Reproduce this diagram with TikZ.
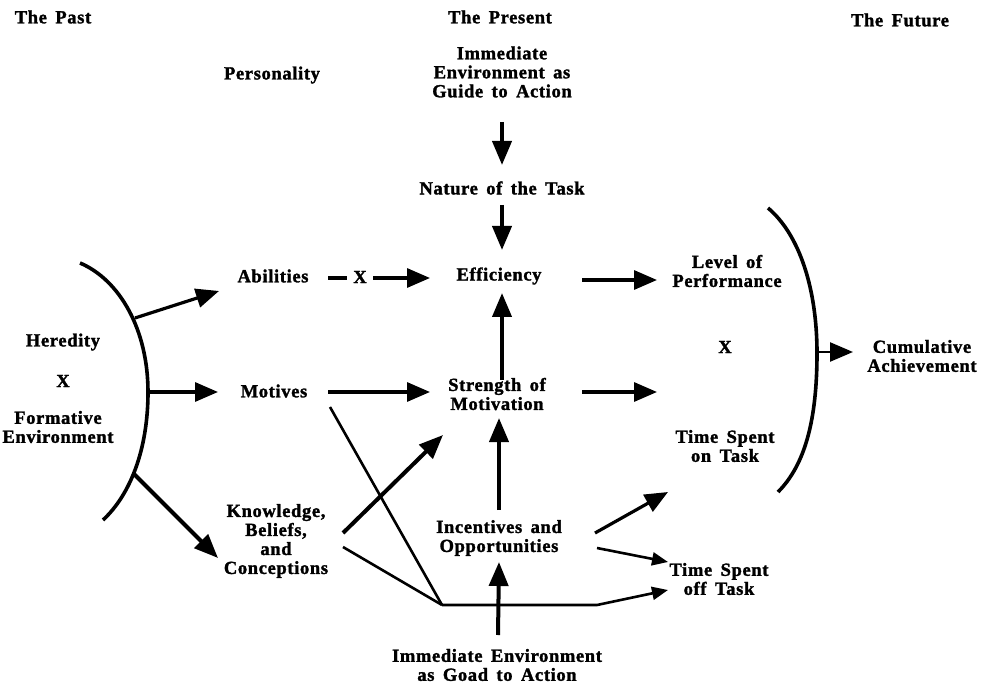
\documentclass[tikz,border=0pt]{standalone}
\usepackage{fontspec}
\newfontfamily\lblfont{Liberation Serif Bold}[LetterSpace=3.5,WordSpace=1.6,FakeBold=1.6]
\usetikzlibrary{arrows.meta}
\begin{document}
\begin{tikzpicture}[x=1pt,y=-1pt,
  lbl/.style={font=\lblfont\fontsize{18.5}{19}\selectfont, align=center, inner sep=0pt},
  bigarrow/.style={line width=4pt, -{Triangle[length=24pt,width=19pt]}},
  medarrow/.style={line width=3.2pt, -{Triangle[length=23pt,width=19pt]}},
  thinarrow/.style={line width=2.6pt, -{Triangle[length=16pt,width=13pt]}},
  plainline/.style={line width=2.6pt},
  bracket/.style={line width=3.6pt}]
\useasboundingbox (0,0) rectangle (990,684);
% ---- texts
\node[lbl] (past) at (53,17) {The Past};
\node[lbl] (present) at (500,17) {The Present};
\node[lbl] (future) at (900,20) {The Future};
\node[lbl] (personality) at (272,75) {Personality};
\node[lbl] (guide) at (502,72) {Immediate\\Environment as\\Guide to Action};
\node[lbl] (nature) at (502,188) {Nature of the Task};
\node[lbl] (abilities) at (273,276) {Abilities};
\node[lbl] (ax) at (360,277) {X};
\node[lbl] (efficiency) at (499,276) {Efficiency};
\node[lbl] (level) at (727,271) {Level of\\Performance};
\node[lbl] (heredity) at (63,342) {Heredity};
\node[lbl] (hx) at (63,381) {X};
\node[lbl] (formative) at (58,427) {Formative\\Environment};
\node[lbl] (motives) at (274,391) {Motives};
\node[lbl] (strength) at (497,394) {Strength of\\Motivation};
\node[lbl] (fx) at (725,347) {X};
\node[lbl] (timeon) at (725,446) {Time Spent\\on Task};
\node[lbl] (cumulative) at (922,356) {Cumulative\\Achievement};
\node[lbl] (knowledge) at (276,541) {Knowledge,\\Beliefs,\\and\\Conceptions};
\node[lbl] (incentives) at (499,538) {Incentives and\\Opportunities};
\node[lbl] (timeoff) at (719,579) {Time Spent\\off Task};
\node[lbl] (goad) at (497,665) {Immediate Environment\\as Goad to Action};
% ---- connector end points
\coordinate (gS) at (502,122);  \coordinate (nN) at (502,165);
\coordinate (nS) at (502,205);  \coordinate (eN) at (502,250);
\coordinate (d1) at (328,278);  \coordinate (d2) at (347,278);
\coordinate (x1) at (373,278);  \coordinate (eW) at (430,278);
\coordinate (eE) at (582,280);  \coordinate (lW) at (657,280);
\coordinate (sN) at (502,380);  \coordinate (eS) at (502,293);
\coordinate (mE) at (328,392);  \coordinate (sW) at (430,392);
\coordinate (sE) at (582,392);  \coordinate (tW) at (657,392);
\coordinate (iN) at (499,510);  \coordinate (sS) at (499,418);
\coordinate (gN) at (498,635);  \coordinate (iS) at (499,562);
\coordinate (k1) at (343,533);  \coordinate (sSW) at (443,435);
\coordinate (k2) at (343,547);  \coordinate (m2) at (330,407);
\coordinate (hub) at (442,605); \coordinate (hubE) at (597,605);
\coordinate (toW) at (668,590);
\coordinate (i1) at (595,533);  \coordinate (tonW) at (668,492);
\coordinate (i2) at (597,548);  \coordinate (toW2) at (668,562);
\coordinate (bA) at (135,318);  \coordinate (aW) at (219,291);
\coordinate (bM) at (148,392);  \coordinate (mW) at (218,392);
\coordinate (bK) at (133,473);  \coordinate (kW) at (218,558);
\coordinate (rb) at (818,352);  \coordinate (cW) at (853,352);
\coordinate (lbT) at (80,263);  \coordinate (lbB) at (103,520);
\coordinate (rbT) at (768,208); \coordinate (rbB) at (778,492);
% ---- brackets
\draw[bracket] (lbT) .. controls (120,280) and (148,330) .. (bM)
  .. controls (148,450) and (130,495) .. (lbB);
\draw[bracket] (rbT) .. controls (800,235) and (817,290) .. (817,353)
  .. controls (817,420) and (805,465) .. (rbB);
% ---- connectors
\draw[bigarrow] (gS) -- (nN);
\draw[bigarrow] (nS) -- (eN);
\draw[line width=3.2pt] (d1) -- (d2);
\draw[medarrow] (x1) -- (eW);
\draw[medarrow] (eE) -- (lW);
\draw[bigarrow] (sN) -- (eS);
\draw[medarrow] (mE) -- (sW);
\draw[medarrow] (sE) -- (tW);
\draw[bigarrow] (iN) -- (sS);
\draw[bigarrow] (gN) -- (iS);
\draw[bigarrow] (k1) -- (sSW);
\draw[plainline] (k2) -- (hub);
\draw[plainline] (m2) -- (hub);
\draw[thinarrow] (hub) -- (hubE) -- (toW);
\draw[medarrow] (i1) -- (tonW);
\draw[thinarrow] (i2) -- (toW2);
\draw[medarrow] (bA) -- (aW);
\draw[medarrow] (bM) -- (mW);
\draw[bigarrow] (bK) -- (kW);
\draw[line width=2.4pt, -{Triangle[length=23pt,width=19pt]}] (rb) -- (cW);
\end{tikzpicture}
\end{document}
